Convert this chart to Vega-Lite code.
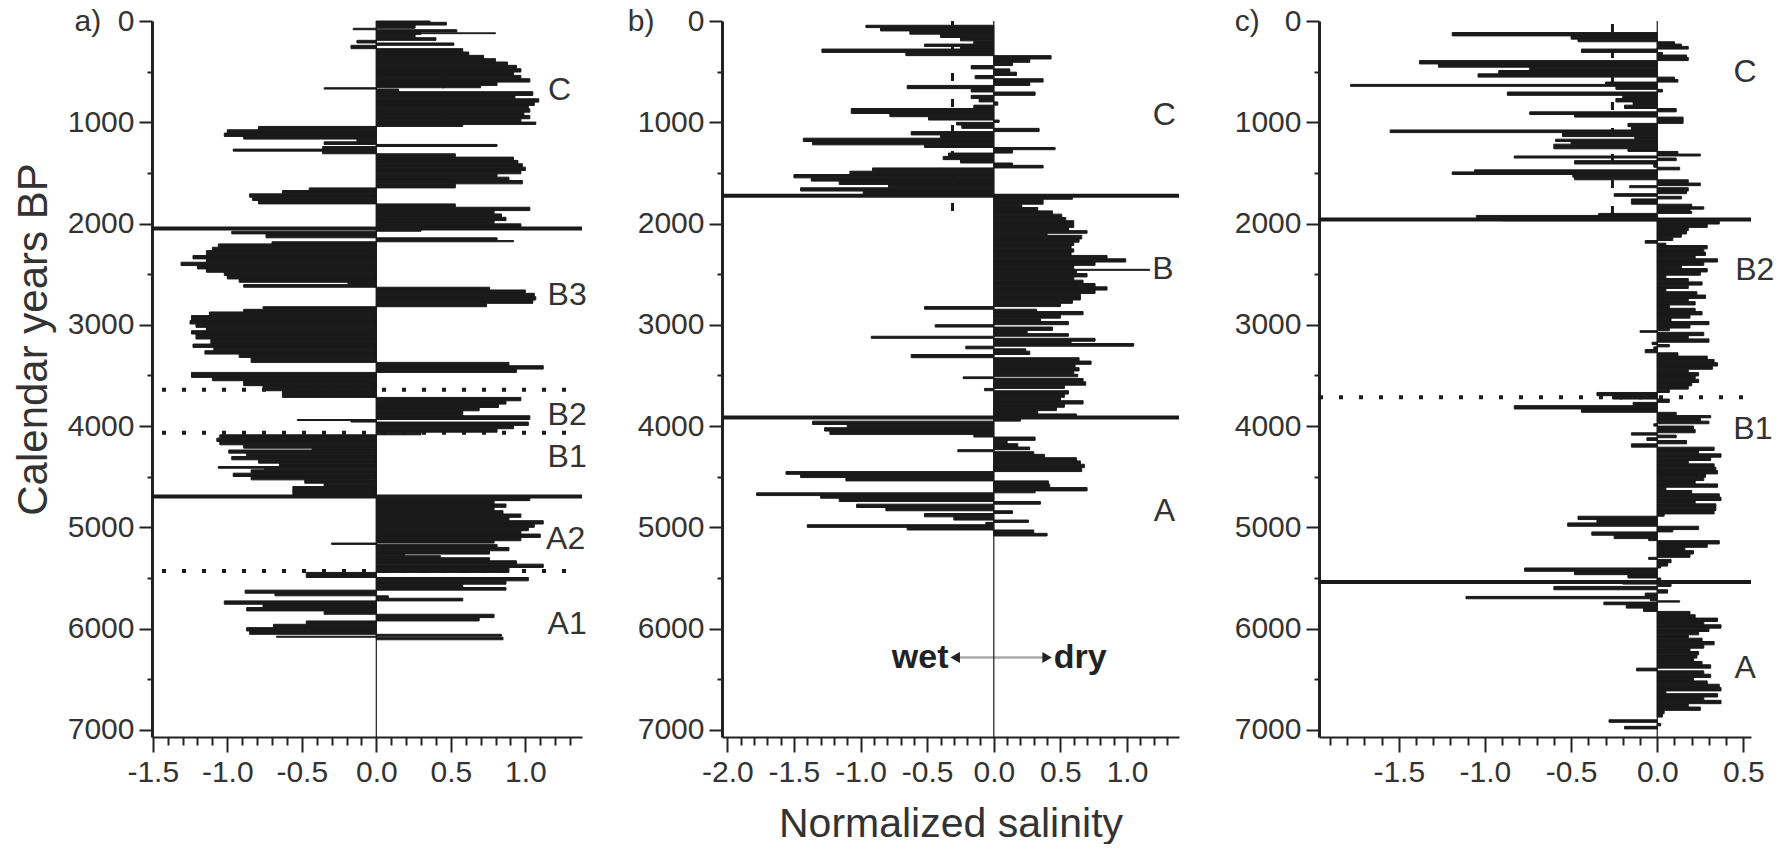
{
"$schema": "https://vega.github.io/schema/vega-lite/v6.json",
"background": "white",
"padding": {"left": 12, "top": 6, "right": 0, "bottom": 0},
"bounds": "flush",
"spacing": 140,
"config": {
  "view": {"stroke": null},
  "font": "Liberation Sans",
  "axis": {"grid": false, "domainColor": "#222", "tickColor": "#222", "tickWidth": 2, "labelFont": "Liberation Sans", "labelFontSize": 30, "labelColor": "#333", "labelFlush": false, "titleFont": "Liberation Sans", "titleFontSize": 42, "titleFontWeight": "normal", "titleColor": "#333"}
},
"datasets": {
"a": [
{"t":0,"e":13,"v":0.36},{"t":13,"e":40,"v":0.47},{"t":40,"e":72,"v":0.26},{"t":72,"e":86,"v":-0.155},{"t":86,"e":109,"v":0.54},{"t":109,"e":117,"v":0.3},{"t":117,"e":125,"v":0.8},{"t":125,"e":132,"v":0.3},{"t":132,"e":165,"v":0.26},{"t":165,"e":191,"v":0.4},{"t":191,"e":217,"v":-0.13},{"t":217,"e":240,"v":0.52},{"t":240,"e":273,"v":-0.17},{"t":273,"e":306,"v":0.58},{"t":306,"e":339,"v":0.62},{"t":339,"e":372,"v":0.72},{"t":372,"e":405,"v":0.8},{"t":405,"e":438,"v":0.88},{"t":438,"e":471,"v":0.94},{"t":471,"e":504,"v":0.97},{"t":504,"e":537,"v":0.92},{"t":537,"e":570,"v":0.97},{"t":570,"e":603,"v":1.03},{"t":603,"e":636,"v":0.81},{"t":636,"e":659,"v":0.7},{"t":659,"e":672,"v":-0.35},{"t":672,"e":698,"v":0.15},{"t":698,"e":735,"v":1.05},{"t":735,"e":768,"v":0.93},{"t":768,"e":801,"v":1.09},{"t":801,"e":834,"v":1.06},{"t":834,"e":867,"v":1.02},{"t":867,"e":900,"v":1.03},{"t":900,"e":932,"v":0.99},{"t":932,"e":965,"v":1.03},{"t":965,"e":998,"v":0.97},{"t":998,"e":1021,"v":1.07},{"t":1021,"e":1041,"v":0.58},{"t":1041,"e":1074,"v":-0.79},{"t":1074,"e":1107,"v":-1.0},{"t":1107,"e":1140,"v":-1.02},{"t":1140,"e":1166,"v":-0.89},{"t":1166,"e":1193,"v":-0.13},{"t":1193,"e":1219,"v":-0.35},{"t":1219,"e":1239,"v":0.81},{"t":1239,"e":1265,"v":-0.36},{"t":1265,"e":1285,"v":-0.96},{"t":1285,"e":1311,"v":-0.36},{"t":1311,"e":1344,"v":0.53},{"t":1344,"e":1377,"v":0.92},{"t":1377,"e":1410,"v":0.95},{"t":1410,"e":1443,"v":0.98},{"t":1443,"e":1476,"v":1.0},{"t":1476,"e":1509,"v":0.97},{"t":1509,"e":1542,"v":0.81},{"t":1542,"e":1575,"v":0.89},{"t":1575,"e":1608,"v":0.98},{"t":1608,"e":1648,"v":0.53},{"t":1648,"e":1674,"v":-0.45},{"t":1674,"e":1707,"v":-0.63},{"t":1707,"e":1740,"v":-0.85},{"t":1740,"e":1773,"v":-0.83},{"t":1773,"e":1806,"v":-0.79},{"t":1806,"e":1839,"v":0.53},{"t":1839,"e":1872,"v":1.03},{"t":1872,"e":1905,"v":0.79},{"t":1905,"e":1938,"v":0.84},{"t":1938,"e":1971,"v":0.87},{"t":1971,"e":2003,"v":0.79},{"t":2003,"e":2036,"v":0.97},{"t":2036,"e":2076,"v":0.3},{"t":2076,"e":2102,"v":-0.97},{"t":2102,"e":2141,"v":-0.74},{"t":2141,"e":2168,"v":0.81},{"t":2168,"e":2180,"v":0.92},{"t":2180,"e":2201,"v":-0.7},{"t":2201,"e":2234,"v":-1.06},{"t":2234,"e":2267,"v":-1.1},{"t":2267,"e":2316,"v":-1.14},{"t":2316,"e":2349,"v":-1.23},{"t":2349,"e":2382,"v":-1.14},{"t":2382,"e":2415,"v":-1.31},{"t":2415,"e":2448,"v":-1.2},{"t":2448,"e":2481,"v":-1.14},{"t":2481,"e":2514,"v":-1.02},{"t":2514,"e":2547,"v":-1.0},{"t":2547,"e":2580,"v":-0.92},{"t":2580,"e":2603,"v":-0.19},{"t":2603,"e":2629,"v":-0.89},{"t":2629,"e":2656,"v":0.76},{"t":2656,"e":2689,"v":1.0},{"t":2689,"e":2722,"v":1.06},{"t":2722,"e":2755,"v":1.07},{"t":2755,"e":2788,"v":1.05},{"t":2788,"e":2821,"v":0.74},{"t":2821,"e":2847,"v":-0.76},{"t":2847,"e":2873,"v":-0.89},{"t":2873,"e":2909,"v":-1.12},{"t":2909,"e":2959,"v":-1.24},{"t":2959,"e":2992,"v":-1.25},{"t":2992,"e":3025,"v":-1.21},{"t":3025,"e":3058,"v":-1.14},{"t":3058,"e":3091,"v":-1.24},{"t":3091,"e":3140,"v":-1.21},{"t":3140,"e":3190,"v":-1.11},{"t":3190,"e":3223,"v":-1.23},{"t":3223,"e":3256,"v":-1.09},{"t":3256,"e":3289,"v":-1.15},{"t":3289,"e":3322,"v":-0.92},{"t":3322,"e":3371,"v":-0.84},{"t":3371,"e":3404,"v":0.89},{"t":3404,"e":3437,"v":1.12},{"t":3437,"e":3470,"v":0.94},{"t":3470,"e":3519,"v":-1.24},{"t":3519,"e":3552,"v":-1.1},{"t":3552,"e":3601,"v":-0.89},{"t":3601,"e":3651,"v":-0.76},{"t":3651,"e":3717,"v":-0.63},{"t":3717,"e":3750,"v":0.97},{"t":3750,"e":3783,"v":0.87},{"t":3783,"e":3816,"v":0.82},{"t":3816,"e":3849,"v":0.69},{"t":3849,"e":3898,"v":0.58},{"t":3898,"e":3935,"v":1.03},{"t":3935,"e":3945,"v":-0.53},{"t":3945,"e":3960,"v":-0.17},{"t":3960,"e":3993,"v":1.02},{"t":3993,"e":4026,"v":0.92},{"t":4026,"e":4060,"v":0.81},{"t":4060,"e":4086,"v":0.3},{"t":4086,"e":4119,"v":-1.05},{"t":4119,"e":4152,"v":-1.07},{"t":4152,"e":4185,"v":-1.05},{"t":4185,"e":4218,"v":-0.89},{"t":4218,"e":4236,"v":-0.43},{"t":4236,"e":4267,"v":-0.99},{"t":4267,"e":4300,"v":-0.87},{"t":4300,"e":4333,"v":-0.97},{"t":4333,"e":4366,"v":-0.79},{"t":4366,"e":4399,"v":-0.65},{"t":4399,"e":4416,"v":-1.06},{"t":4416,"e":4432,"v":-0.75},{"t":4432,"e":4465,"v":-0.84},{"t":4465,"e":4498,"v":-0.96},{"t":4498,"e":4531,"v":-0.84},{"t":4531,"e":4564,"v":-0.48},{"t":4564,"e":4597,"v":-0.35},{"t":4597,"e":4703,"v":-0.56},{"t":4703,"e":4736,"v":1.03},{"t":4736,"e":4769,"v":0.79},{"t":4769,"e":4802,"v":0.87},{"t":4802,"e":4835,"v":0.79},{"t":4835,"e":4868,"v":0.85},{"t":4868,"e":4901,"v":0.97},{"t":4901,"e":4934,"v":0.89},{"t":4934,"e":4967,"v":1.12},{"t":4967,"e":5000,"v":1.06},{"t":5000,"e":5033,"v":1.02},{"t":5033,"e":5066,"v":0.97},{"t":5066,"e":5099,"v":1.1},{"t":5099,"e":5132,"v":0.97},{"t":5132,"e":5155,"v":0.79},{"t":5155,"e":5168,"v":-0.3},{"t":5168,"e":5198,"v":0.81},{"t":5198,"e":5231,"v":0.89},{"t":5231,"e":5264,"v":0.76},{"t":5264,"e":5280,"v":0.19},{"t":5280,"e":5300,"v":0.43},{"t":5300,"e":5330,"v":0.76},{"t":5330,"e":5363,"v":0.94},{"t":5363,"e":5396,"v":1.12},{"t":5396,"e":5445,"v":0.89},{"t":5445,"e":5495,"v":-0.47},{"t":5495,"e":5528,"v":1.02},{"t":5528,"e":5561,"v":0.87},{"t":5561,"e":5594,"v":0.58},{"t":5594,"e":5620,"v":0.87},{"t":5620,"e":5650,"v":-0.88},{"t":5650,"e":5676,"v":-0.68},{"t":5676,"e":5700,"v":0.08},{"t":5700,"e":5726,"v":0.58},{"t":5726,"e":5759,"v":-1.02},{"t":5759,"e":5792,"v":-0.76},{"t":5792,"e":5825,"v":-0.87},{"t":5825,"e":5858,"v":-0.35},{"t":5858,"e":5891,"v":0.79},{"t":5891,"e":5924,"v":0.69},{"t":5924,"e":5957,"v":-0.47},{"t":5957,"e":5990,"v":-0.69},{"t":5990,"e":6023,"v":-0.87},{"t":6023,"e":6056,"v":-0.85},{"t":6056,"e":6075,"v":0.84},{"t":6075,"e":6085,"v":-0.67},{"t":6085,"e":6110,"v":0.85}
],
"b": [
{"t":42,"e":65,"v":-0.96},{"t":65,"e":98,"v":-0.85},{"t":98,"e":130,"v":-0.63},{"t":130,"e":163,"v":-0.4},{"t":163,"e":196,"v":-0.25},{"t":196,"e":228,"v":-0.15},{"t":228,"e":251,"v":-0.52},{"t":251,"e":277,"v":-0.25},{"t":277,"e":310,"v":-1.29},{"t":310,"e":342,"v":-0.66},{"t":342,"e":375,"v":0.43},{"t":375,"e":408,"v":0.27},{"t":408,"e":440,"v":0.14},{"t":440,"e":473,"v":-0.17},{"t":473,"e":505,"v":0.12},{"t":505,"e":538,"v":0.17},{"t":538,"e":570,"v":-0.14},{"t":570,"e":603,"v":0.37},{"t":603,"e":636,"v":0.27},{"t":636,"e":668,"v":-0.65},{"t":668,"e":701,"v":-0.17},{"t":701,"e":734,"v":0.31},{"t":734,"e":766,"v":-0.17},{"t":766,"e":799,"v":-0.11},{"t":799,"e":831,"v":0.03},{"t":831,"e":864,"v":-0.15},{"t":864,"e":913,"v":-1.07},{"t":913,"e":945,"v":-0.78},{"t":945,"e":978,"v":-0.49},{"t":978,"e":1001,"v":0.04},{"t":1001,"e":1027,"v":-0.28},{"t":1027,"e":1060,"v":-0.24},{"t":1060,"e":1092,"v":0.34},{"t":1092,"e":1125,"v":-0.62},{"t":1125,"e":1157,"v":-0.4},{"t":1157,"e":1190,"v":-1.43},{"t":1190,"e":1223,"v":-1.36},{"t":1223,"e":1249,"v":-0.52},{"t":1249,"e":1271,"v":0.46},{"t":1271,"e":1304,"v":0.14},{"t":1304,"e":1337,"v":-0.34},{"t":1337,"e":1369,"v":-0.38},{"t":1369,"e":1402,"v":-0.25},{"t":1402,"e":1425,"v":0.14},{"t":1425,"e":1451,"v":0.37},{"t":1451,"e":1483,"v":-0.91},{"t":1483,"e":1516,"v":-1.08},{"t":1516,"e":1549,"v":-1.5},{"t":1549,"e":1581,"v":-1.37},{"t":1581,"e":1614,"v":-1.16},{"t":1614,"e":1647,"v":-0.79},{"t":1647,"e":1679,"v":-1.45},{"t":1679,"e":1718,"v":-0.98},{"t":1718,"e":1728,"v":-0.5},{"t":1728,"e":1760,"v":0.59},{"t":1760,"e":1809,"v":0.37},{"t":1809,"e":1842,"v":0.21},{"t":1842,"e":1875,"v":0.33},{"t":1875,"e":1907,"v":0.44},{"t":1907,"e":1940,"v":0.51},{"t":1940,"e":1972,"v":0.54},{"t":1972,"e":2005,"v":0.6},{"t":2005,"e":2038,"v":0.6},{"t":2038,"e":2070,"v":0.56},{"t":2070,"e":2096,"v":0.7},{"t":2096,"e":2116,"v":0.4},{"t":2116,"e":2152,"v":0.66},{"t":2152,"e":2184,"v":0.64},{"t":2184,"e":2217,"v":0.6},{"t":2217,"e":2250,"v":0.58},{"t":2250,"e":2282,"v":0.6},{"t":2282,"e":2315,"v":0.58},{"t":2315,"e":2348,"v":0.85},{"t":2348,"e":2380,"v":0.99},{"t":2380,"e":2413,"v":0.76},{"t":2413,"e":2445,"v":0.6},{"t":2445,"e":2452,"v":0.6},{"t":2452,"e":2462,"v":1.17},{"t":2462,"e":2494,"v":0.62},{"t":2494,"e":2527,"v":0.7},{"t":2527,"e":2559,"v":0.6},{"t":2559,"e":2592,"v":0.67},{"t":2592,"e":2625,"v":0.76},{"t":2625,"e":2657,"v":0.85},{"t":2657,"e":2690,"v":0.76},{"t":2690,"e":2722,"v":0.65},{"t":2722,"e":2755,"v":0.65},{"t":2755,"e":2788,"v":0.59},{"t":2788,"e":2820,"v":0.5},{"t":2820,"e":2846,"v":-0.52},{"t":2846,"e":2869,"v":0.32},{"t":2869,"e":2901,"v":0.67},{"t":2901,"e":2934,"v":0.5},{"t":2934,"e":2967,"v":0.35},{"t":2967,"e":2999,"v":0.56},{"t":2999,"e":3022,"v":-0.44},{"t":3022,"e":3055,"v":0.44},{"t":3055,"e":3087,"v":0.25},{"t":3087,"e":3113,"v":0.56},{"t":3113,"e":3133,"v":-0.92},{"t":3133,"e":3162,"v":0.76},{"t":3162,"e":3185,"v":0.58},{"t":3185,"e":3211,"v":1.05},{"t":3211,"e":3237,"v":-0.21},{"t":3237,"e":3260,"v":0.24},{"t":3260,"e":3293,"v":0.27},{"t":3293,"e":3325,"v":-0.62},{"t":3325,"e":3358,"v":0.64},{"t":3358,"e":3390,"v":0.73},{"t":3390,"e":3423,"v":0.61},{"t":3423,"e":3456,"v":0.64},{"t":3456,"e":3488,"v":0.6},{"t":3488,"e":3514,"v":0.63},{"t":3514,"e":3531,"v":-0.23},{"t":3531,"e":3563,"v":0.67},{"t":3563,"e":3596,"v":0.69},{"t":3596,"e":3628,"v":0.53},{"t":3628,"e":3651,"v":-0.07},{"t":3651,"e":3684,"v":0.56},{"t":3684,"e":3716,"v":0.53},{"t":3716,"e":3749,"v":0.5},{"t":3749,"e":3782,"v":0.67},{"t":3782,"e":3814,"v":0.53},{"t":3814,"e":3847,"v":0.47},{"t":3847,"e":3880,"v":0.33},{"t":3880,"e":3925,"v":0.62},{"t":3925,"e":3951,"v":0.2},{"t":3951,"e":3984,"v":-1.36},{"t":3984,"e":4016,"v":-1.1},{"t":4016,"e":4049,"v":-1.27},{"t":4049,"e":4082,"v":-1.23},{"t":4082,"e":4108,"v":-0.15},{"t":4108,"e":4141,"v":0.31},{"t":4141,"e":4174,"v":0.1},{"t":4174,"e":4207,"v":0.18},{"t":4207,"e":4233,"v":0.27},{"t":4233,"e":4253,"v":-0.27},{"t":4253,"e":4279,"v":0.3},{"t":4279,"e":4312,"v":0.38},{"t":4312,"e":4344,"v":0.62},{"t":4344,"e":4377,"v":0.65},{"t":4377,"e":4410,"v":0.68},{"t":4410,"e":4449,"v":0.66},{"t":4449,"e":4476,"v":-1.56},{"t":4476,"e":4508,"v":-1.45},{"t":4508,"e":4541,"v":-1.11},{"t":4541,"e":4574,"v":0.41},{"t":4574,"e":4607,"v":0.42},{"t":4607,"e":4640,"v":0.7},{"t":4640,"e":4659,"v":0.31},{"t":4659,"e":4686,"v":-1.78},{"t":4686,"e":4712,"v":-1.3},{"t":4712,"e":4745,"v":-1.16},{"t":4745,"e":4771,"v":0.35},{"t":4771,"e":4804,"v":-1.03},{"t":4804,"e":4836,"v":-0.81},{"t":4836,"e":4863,"v":0.14},{"t":4863,"e":4896,"v":-0.52},{"t":4896,"e":4928,"v":-0.3},{"t":4928,"e":4951,"v":0.26},{"t":4951,"e":4974,"v":-0.06},{"t":4974,"e":5000,"v":-1.4},{"t":5000,"e":5026,"v":-0.65},{"t":5026,"e":5059,"v":0.3},{"t":5059,"e":5085,"v":0.4}
],
"c": [
{"t":114,"e":147,"v":-1.19},{"t":147,"e":179,"v":-0.5},{"t":179,"e":205,"v":-0.46},{"t":205,"e":228,"v":0.1},{"t":228,"e":251,"v":0.14},{"t":251,"e":277,"v":0.18},{"t":277,"e":310,"v":-0.44},{"t":310,"e":336,"v":0.03},{"t":336,"e":359,"v":0.17},{"t":359,"e":391,"v":0.18},{"t":391,"e":424,"v":-1.38},{"t":424,"e":456,"v":-1.27},{"t":456,"e":489,"v":-0.74},{"t":489,"e":522,"v":-0.92},{"t":522,"e":554,"v":-1.04},{"t":554,"e":577,"v":0.1},{"t":577,"e":603,"v":0.12},{"t":603,"e":626,"v":-0.3},{"t":626,"e":645,"v":-1.78},{"t":645,"e":675,"v":-0.24},{"t":675,"e":701,"v":0.03},{"t":701,"e":734,"v":-0.87},{"t":734,"e":766,"v":-0.2},{"t":766,"e":799,"v":-0.24},{"t":799,"e":831,"v":-0.14},{"t":831,"e":864,"v":-0.19},{"t":864,"e":897,"v":0.11},{"t":897,"e":923,"v":-0.74},{"t":923,"e":949,"v":-0.48},{"t":949,"e":978,"v":0.15},{"t":978,"e":1011,"v":0.15},{"t":1011,"e":1043,"v":-0.17},{"t":1043,"e":1076,"v":-0.15},{"t":1076,"e":1102,"v":-1.55},{"t":1102,"e":1141,"v":-0.55},{"t":1141,"e":1167,"v":-0.13},{"t":1167,"e":1190,"v":-0.59},{"t":1190,"e":1216,"v":-0.5},{"t":1216,"e":1242,"v":-0.6},{"t":1242,"e":1262,"v":-0.6},{"t":1262,"e":1288,"v":-0.17},{"t":1288,"e":1314,"v":0.12},{"t":1314,"e":1333,"v":0.25},{"t":1333,"e":1353,"v":-0.83},{"t":1353,"e":1379,"v":0.11},{"t":1379,"e":1412,"v":-0.48},{"t":1412,"e":1444,"v":-0.02},{"t":1444,"e":1470,"v":0.13},{"t":1470,"e":1490,"v":-1.06},{"t":1490,"e":1516,"v":-1.19},{"t":1516,"e":1542,"v":-0.49},{"t":1542,"e":1568,"v":-0.48},{"t":1568,"e":1600,"v":0.18},{"t":1600,"e":1626,"v":0.25},{"t":1626,"e":1646,"v":-0.16},{"t":1646,"e":1679,"v":0.18},{"t":1679,"e":1705,"v":0.17},{"t":1705,"e":1731,"v":-0.25},{"t":1731,"e":1757,"v":0.14},{"t":1757,"e":1783,"v":-0.15},{"t":1783,"e":1809,"v":-0.15},{"t":1809,"e":1835,"v":0.2},{"t":1835,"e":1858,"v":0.27},{"t":1858,"e":1881,"v":0.19},{"t":1881,"e":1900,"v":0.2},{"t":1900,"e":1920,"v":-0.34},{"t":1920,"e":1940,"v":-1.05},{"t":1940,"e":1972,"v":-0.9},{"t":1972,"e":2005,"v":0.36},{"t":2005,"e":2038,"v":0.29},{"t":2038,"e":2070,"v":0.18},{"t":2070,"e":2103,"v":0.17},{"t":2103,"e":2135,"v":0.14},{"t":2135,"e":2168,"v":0.09},{"t":2168,"e":2194,"v":-0.07},{"t":2194,"e":2217,"v":0.05},{"t":2217,"e":2250,"v":0.29},{"t":2250,"e":2282,"v":0.27},{"t":2282,"e":2315,"v":0.28},{"t":2315,"e":2348,"v":0.22},{"t":2348,"e":2380,"v":0.35},{"t":2380,"e":2413,"v":0.27},{"t":2413,"e":2445,"v":0.14},{"t":2445,"e":2478,"v":0.29},{"t":2478,"e":2510,"v":0.25},{"t":2510,"e":2543,"v":0.05},{"t":2543,"e":2576,"v":0.18},{"t":2576,"e":2608,"v":0.26},{"t":2608,"e":2641,"v":0.18},{"t":2641,"e":2673,"v":0.05},{"t":2673,"e":2706,"v":0.23},{"t":2706,"e":2739,"v":0.28},{"t":2739,"e":2771,"v":0.18},{"t":2771,"e":2804,"v":0.22},{"t":2804,"e":2837,"v":0.07},{"t":2837,"e":2869,"v":0.22},{"t":2869,"e":2902,"v":0.26},{"t":2902,"e":2934,"v":0.19},{"t":2934,"e":2967,"v":0.08},{"t":2967,"e":2999,"v":0.3},{"t":2999,"e":3032,"v":0.19},{"t":3032,"e":3058,"v":0.07},{"t":3058,"e":3074,"v":-0.1},{"t":3074,"e":3107,"v":0.27},{"t":3107,"e":3139,"v":0.18},{"t":3139,"e":3172,"v":0.3},{"t":3172,"e":3195,"v":-0.03},{"t":3195,"e":3218,"v":0.07},{"t":3218,"e":3244,"v":-0.02},{"t":3244,"e":3276,"v":-0.07},{"t":3276,"e":3309,"v":0.12},{"t":3309,"e":3342,"v":0.29},{"t":3342,"e":3374,"v":0.33},{"t":3374,"e":3407,"v":0.35},{"t":3407,"e":3439,"v":0.32},{"t":3439,"e":3472,"v":0.18},{"t":3472,"e":3505,"v":0.24},{"t":3505,"e":3537,"v":0.22},{"t":3537,"e":3570,"v":0.24},{"t":3570,"e":3602,"v":0.2},{"t":3602,"e":3635,"v":0.18},{"t":3635,"e":3668,"v":0.07},{"t":3668,"e":3700,"v":-0.35},{"t":3700,"e":3733,"v":-0.26},{"t":3733,"e":3766,"v":0.07},{"t":3766,"e":3798,"v":-0.14},{"t":3798,"e":3831,"v":-0.83},{"t":3831,"e":3864,"v":-0.44},{"t":3864,"e":3896,"v":0.11},{"t":3896,"e":3918,"v":0.31},{"t":3918,"e":3951,"v":0.25},{"t":3951,"e":3977,"v":0.3},{"t":3977,"e":4000,"v":-0.02},{"t":4000,"e":4033,"v":0.21},{"t":4033,"e":4066,"v":0.22},{"t":4066,"e":4089,"v":-0.15},{"t":4089,"e":4115,"v":0.11},{"t":4115,"e":4142,"v":-0.06},{"t":4142,"e":4175,"v":0.17},{"t":4175,"e":4208,"v":-0.15},{"t":4208,"e":4241,"v":0.33},{"t":4241,"e":4274,"v":0.24},{"t":4274,"e":4307,"v":0.37},{"t":4307,"e":4340,"v":0.31},{"t":4340,"e":4373,"v":0.18},{"t":4373,"e":4406,"v":0.33},{"t":4406,"e":4439,"v":0.34},{"t":4439,"e":4472,"v":0.35},{"t":4472,"e":4505,"v":0.28},{"t":4505,"e":4538,"v":0.27},{"t":4538,"e":4571,"v":0.22},{"t":4571,"e":4604,"v":0.35},{"t":4604,"e":4636,"v":0.05},{"t":4636,"e":4669,"v":0.2},{"t":4669,"e":4702,"v":0.36},{"t":4702,"e":4735,"v":0.37},{"t":4735,"e":4768,"v":0.22},{"t":4768,"e":4801,"v":0.34},{"t":4801,"e":4834,"v":0.34},{"t":4834,"e":4867,"v":0.33},{"t":4867,"e":4890,"v":0.04},{"t":4890,"e":4923,"v":-0.46},{"t":4923,"e":4956,"v":-0.35},{"t":4956,"e":4989,"v":-0.52},{"t":4989,"e":5022,"v":0.24},{"t":5022,"e":5045,"v":0.09},{"t":5045,"e":5078,"v":-0.38},{"t":5078,"e":5111,"v":-0.25},{"t":5111,"e":5131,"v":-0.05},{"t":5131,"e":5164,"v":0.36},{"t":5164,"e":5197,"v":0.29},{"t":5197,"e":5230,"v":0.16},{"t":5230,"e":5263,"v":0.21},{"t":5263,"e":5296,"v":0.19},{"t":5296,"e":5316,"v":-0.05},{"t":5316,"e":5349,"v":0.08},{"t":5349,"e":5382,"v":0.06},{"t":5382,"e":5401,"v":0.02},{"t":5401,"e":5434,"v":-0.77},{"t":5434,"e":5467,"v":-0.48},{"t":5467,"e":5500,"v":-0.17},{"t":5500,"e":5527,"v":0.02},{"t":5527,"e":5560,"v":-0.2},{"t":5560,"e":5583,"v":0.08},{"t":5583,"e":5616,"v":-0.6},{"t":5616,"e":5649,"v":0.06},{"t":5649,"e":5682,"v":-0.07},{"t":5682,"e":5705,"v":-1.11},{"t":5705,"e":5725,"v":-0.04},{"t":5725,"e":5738,"v":0.13},{"t":5738,"e":5764,"v":-0.31},{"t":5764,"e":5797,"v":-0.18},{"t":5797,"e":5830,"v":-0.08},{"t":5830,"e":5863,"v":0.19},{"t":5863,"e":5896,"v":0.22},{"t":5896,"e":5929,"v":0.35},{"t":5929,"e":5962,"v":0.27},{"t":5962,"e":5995,"v":0.37},{"t":5995,"e":6028,"v":0.3},{"t":6028,"e":6061,"v":0.24},{"t":6061,"e":6094,"v":0.18},{"t":6094,"e":6127,"v":0.26},{"t":6127,"e":6160,"v":0.33},{"t":6160,"e":6193,"v":0.27},{"t":6193,"e":6226,"v":0.19},{"t":6226,"e":6259,"v":0.24},{"t":6259,"e":6291,"v":0.23},{"t":6291,"e":6324,"v":0.21},{"t":6324,"e":6357,"v":0.26},{"t":6357,"e":6390,"v":0.31},{"t":6390,"e":6417,"v":-0.12},{"t":6417,"e":6450,"v":0.27},{"t":6450,"e":6483,"v":0.31},{"t":6483,"e":6516,"v":0.21},{"t":6516,"e":6549,"v":0.29},{"t":6549,"e":6582,"v":0.36},{"t":6582,"e":6615,"v":0.37},{"t":6615,"e":6642,"v":0.05},{"t":6642,"e":6675,"v":0.35},{"t":6675,"e":6708,"v":0.27},{"t":6708,"e":6741,"v":0.37},{"t":6741,"e":6774,"v":0.18},{"t":6774,"e":6807,"v":0.25},{"t":6807,"e":6840,"v":0.04},{"t":6840,"e":6873,"v":0.03},{"t":6900,"e":6925,"v":-0.28},{"t":6935,"e":6960,"v":0.02},{"t":6965,"e":6990,"v":-0.19}
]
},
"hconcat": [
{
  "width": 430, "height": 716,
  "data": {"values": [{}]},
  "resolve": {"axis": {"x": "independent"}},
  "layer": [
   {"layer": [
    {"data": {"name": "a"}, "mark": {"type": "rect", "color": "#1a1a1a", "stroke": "#1a1a1a", "strokeWidth": 1},
     "encoding": {
       "y": {"field": "t", "type": "quantitative", "scale": {"domain": [0, 7070], "reverse": true, "nice": false, "zero": false},
         "axis": {"title": "Calendar years BP", "titlePadding": 12, "titleY": 318, "values": [0,500,1000,1500,2000,2500,3000,3500,4000,4500,5000,5500,6000,6500,7000],
           "labelExpr": "datum.value == 0 ? 'a)\u00a0\u00a00' : (datum.value % 1000 == 0 ? '' + datum.value : '')",
           "tickSize": {"condition": {"test": "datum.value % 1000 == 0", "value": 13}, "value": 5}, "labelPadding": 5, "domainWidth": 3}},
       "y2": {"field": "e"},
       "x": {"field": "v", "type": "quantitative", "scale": {"domain": [-1.505, 1.38], "nice": false, "zero": false},
         "axis": {"title": null, "orient": "bottom", "values": [-1.5,-1,-0.5,0,0.5,1],
           "labelExpr": "(datum.value < -0.001 ? '-' : '') + format(abs(datum.value), '.1f')",
           "tickSize": 15, "labelPadding": 5, "domainWidth": 2}},
       "x2": {"datum": 0}
     }},
    {"mark": {"type": "rule", "color": "#1a1a1a", "strokeWidth": 2, "strokeDash": [10, 18]}, "encoding": {"x": {"datum": 0.45}, "y": {"datum": 290}, "y2": {"datum": 1110}}},
    {"mark": {"type": "rule", "color": "#1a1a1a", "strokeWidth": 4}, "encoding": {"y": {"datum": 2050}}},
    {"mark": {"type": "rule", "color": "#1a1a1a", "strokeWidth": 4}, "encoding": {"y": {"datum": 4695}}},
    {"mark": {"type": "rule", "color": "#1a1a1a", "strokeWidth": 4, "strokeDash": [4, 16], "strokeDashOffset": -16}, "encoding": {"y": {"datum": 3640}}},
    {"mark": {"type": "rule", "color": "#1a1a1a", "strokeWidth": 4, "strokeDash": [4, 16], "strokeDashOffset": -16}, "encoding": {"y": {"datum": 4065}}},
    {"mark": {"type": "rule", "color": "#1a1a1a", "strokeWidth": 4, "strokeDash": [4, 16], "strokeDashOffset": -16}, "encoding": {"y": {"datum": 5430}}},
    {"data": {"values": [{"label": "C", "x": 1.23, "year": 685}, {"label": "B3", "x": 1.28, "year": 2710}, {"label": "B2", "x": 1.28, "year": 3895}, {"label": "B1", "x": 1.28, "year": 4307}, {"label": "A2", "x": 1.27, "year": 5115}, {"label": "A1", "x": 1.28, "year": 5957}]},
     "mark": {"type": "text", "fontSize": 32, "color": "#333", "align": "center", "baseline": "middle", "font": "Liberation Sans"},
     "encoding": {"x": {"field": "x", "type": "quantitative"}, "y": {"field": "year", "type": "quantitative"}, "text": {"field": "label"}}}
   ]},
   {"data": {"values": [{"z": 0}]}, "mark": {"type": "rule", "color": "#1a1a1a", "strokeWidth": 1.2},
    "encoding": {"x": {"field": "z", "type": "quantitative", "axis": {"title": null, "orient": "bottom", "labels": false, "domain": false, "tickSize": 8, "values": [-1.4,-1.3,-1.2,-1.1,-0.9,-0.8,-0.7,-0.6,-0.4,-0.3,-0.2,-0.1,0.1,0.2,0.3,0.4,0.6,0.7,0.8,0.9,1.1,1.2,1.3]}}}}
  ]
},
{
  "width": 457, "height": 716,
  "data": {"values": [{}]},
  "resolve": {"axis": {"x": "independent"}},
  "layer": [
   {"layer": [
    {"data": {"name": "b"}, "mark": {"type": "rect", "color": "#1a1a1a", "stroke": "#1a1a1a", "strokeWidth": 1},
     "encoding": {
       "y": {"field": "t", "type": "quantitative", "scale": {"domain": [0, 7070], "reverse": true, "nice": false, "zero": false},
         "axis": {"title": null, "values": [0,500,1000,1500,2000,2500,3000,3500,4000,4500,5000,5500,6000,6500,7000],
           "labelExpr": "datum.value == 0 ? 'b)\u00a0\u00a0\u00a0\u00a00' : (datum.value % 1000 == 0 ? '' + datum.value : '')",
           "tickSize": {"condition": {"test": "datum.value % 1000 == 0", "value": 13}, "value": 5}, "labelPadding": 5, "domainWidth": 3}},
       "y2": {"field": "e"},
       "x": {"field": "v", "type": "quantitative", "scale": {"domain": [-2.04, 1.39], "nice": false, "zero": false},
         "axis": {"title": "Normalized salinity", "titleFontSize": 41, "titlePadding": 17, "orient": "bottom", "values": [-2,-1.5,-1,-0.5,0,0.5,1],
           "labelExpr": "(datum.value < -0.001 ? '-' : '') + format(abs(datum.value), '.1f')",
           "tickSize": 15, "labelPadding": 5, "domainWidth": 2}},
       "x2": {"datum": 0}
     }},
    {"mark": {"type": "rule", "color": "#1a1a1a", "strokeWidth": 3, "strokeDash": [8, 18]}, "encoding": {"x": {"datum": -0.31}, "y": {"datum": 0}, "y2": {"datum": 2010}}},
    {"mark": {"type": "rule", "color": "#1a1a1a", "strokeWidth": 4}, "encoding": {"y": {"datum": 1725}}},
    {"mark": {"type": "rule", "color": "#1a1a1a", "strokeWidth": 4}, "encoding": {"y": {"datum": 3915}}},
    {"mark": {"type": "rule", "color": "#aaaaaa", "strokeWidth": 2.5}, "encoding": {"x": {"datum": -0.27}, "x2": {"datum": 0.39}, "y": {"datum": 6285}}},
    {"mark": {"type": "point", "shape": "triangle-left", "filled": true, "color": "#222", "size": 120, "opacity": 1}, "encoding": {"x": {"datum": -0.29}, "y": {"datum": 6285}}},
    {"mark": {"type": "point", "shape": "triangle-right", "filled": true, "color": "#222", "size": 120, "opacity": 1}, "encoding": {"x": {"datum": 0.4}, "y": {"datum": 6285}}},
    {"mark": {"type": "text", "text": "wet", "fontSize": 34, "fontWeight": "bold", "color": "#222", "align": "right", "baseline": "middle", "font": "Liberation Sans"}, "encoding": {"x": {"datum": -0.34}, "y": {"datum": 6285}}},
    {"mark": {"type": "text", "text": "dry", "fontSize": 34, "fontWeight": "bold", "color": "#222", "align": "left", "baseline": "middle", "font": "Liberation Sans"}, "encoding": {"x": {"datum": 0.45}, "y": {"datum": 6285}}},
    {"data": {"values": [{"label": "C", "x": 1.28, "year": 926}, {"label": "B", "x": 1.27, "year": 2450}, {"label": "A", "x": 1.28, "year": 4840}]},
     "mark": {"type": "text", "fontSize": 32, "color": "#333", "align": "center", "baseline": "middle", "font": "Liberation Sans"},
     "encoding": {"x": {"field": "x", "type": "quantitative"}, "y": {"field": "year", "type": "quantitative"}, "text": {"field": "label"}}}
   ]},
   {"data": {"values": [{"z": 0}]}, "mark": {"type": "rule", "color": "#1a1a1a", "strokeWidth": 1.2},
    "encoding": {"x": {"field": "z", "type": "quantitative", "axis": {"title": null, "orient": "bottom", "labels": false, "domain": false, "tickSize": 8, "values": [-1.9,-1.8,-1.7,-1.6,-1.4,-1.3,-1.2,-1.1,-0.9,-0.8,-0.7,-0.6,-0.4,-0.3,-0.2,-0.1,0.1,0.2,0.3,0.4,0.6,0.7,0.8,0.9,1.1,1.2,1.3]}}}}
  ]
},
{
  "width": 432, "height": 716,
  "data": {"values": [{}]},
  "resolve": {"axis": {"x": "independent"}},
  "layer": [
   {"layer": [
    {"data": {"name": "c"}, "mark": {"type": "rect", "color": "#1a1a1a", "stroke": "#1a1a1a", "strokeWidth": 1},
     "encoding": {
       "y": {"field": "t", "type": "quantitative", "scale": {"domain": [0, 7070], "reverse": true, "nice": false, "zero": false},
         "axis": {"title": null, "values": [0,500,1000,1500,2000,2500,3000,3500,4000,4500,5000,5500,6000,6500,7000],
           "labelExpr": "datum.value == 0 ? 'c)\u00a0\u00a0\u00a00' : (datum.value % 1000 == 0 ? '' + datum.value : '')",
           "tickSize": {"condition": {"test": "datum.value % 1000 == 0", "value": 13}, "value": 5}, "labelPadding": 5, "domainWidth": 3}},
       "y2": {"field": "e"},
       "x": {"field": "v", "type": "quantitative", "scale": {"domain": [-1.963, 0.544], "nice": false, "zero": false},
         "axis": {"title": null, "orient": "bottom", "values": [-1.5,-1,-0.5,0,0.5],
           "labelExpr": "(datum.value < -0.001 ? '-' : '') + format(abs(datum.value), '.1f')",
           "tickSize": 15, "labelPadding": 5, "domainWidth": 2}},
       "x2": {"datum": 0}
     }},
    {"mark": {"type": "rule", "color": "#1a1a1a", "strokeWidth": 3, "strokeDash": [8, 18]}, "encoding": {"x": {"datum": -0.26}, "y": {"datum": 30}, "y2": {"datum": 2060}}},
    {"mark": {"type": "rule", "color": "#1a1a1a", "strokeWidth": 4}, "encoding": {"y": {"datum": 1960}}},
    {"mark": {"type": "rule", "color": "#1a1a1a", "strokeWidth": 4}, "encoding": {"y": {"datum": 5540}}},
    {"mark": {"type": "rule", "color": "#1a1a1a", "strokeWidth": 4, "strokeDash": [4, 16], "strokeDashOffset": -8}, "encoding": {"y": {"datum": 3715}}},
    {"data": {"values": [{"label": "C", "x": 0.51, "year": 505}, {"label": "B2", "x": 0.566, "year": 2462}, {"label": "B1", "x": 0.555, "year": 4033}, {"label": "A", "x": 0.51, "year": 6390}]},
     "mark": {"type": "text", "fontSize": 32, "color": "#333", "align": "center", "baseline": "middle", "font": "Liberation Sans"},
     "encoding": {"x": {"field": "x", "type": "quantitative"}, "y": {"field": "year", "type": "quantitative"}, "text": {"field": "label"}}}
   ]},
   {"data": {"values": [{"z": 0}]}, "mark": {"type": "rule", "color": "#1a1a1a", "strokeWidth": 1.2},
    "encoding": {"x": {"field": "z", "type": "quantitative", "axis": {"title": null, "orient": "bottom", "labels": false, "domain": false, "tickSize": 8, "values": [-1.9,-1.8,-1.7,-1.6,-1.4,-1.3,-1.2,-1.1,-0.9,-0.8,-0.7,-0.6,-0.4,-0.3,-0.2,-0.1,0.1,0.2,0.3,0.4]}}}}
  ]
}
]
}
